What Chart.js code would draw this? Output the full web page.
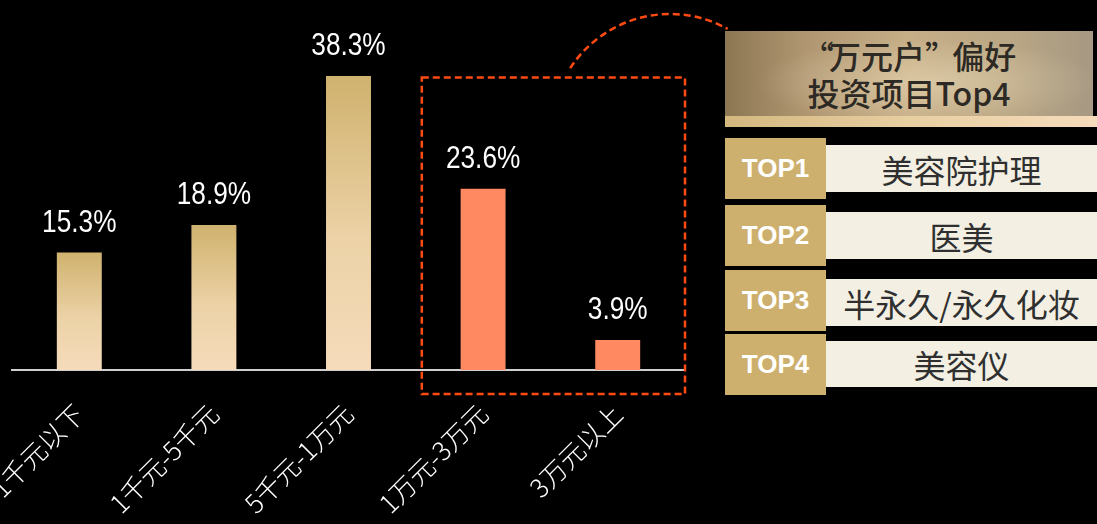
<!DOCTYPE html>
<html>
<head>
<meta charset="utf-8">
<script src="https://cdn.jsdelivr.net/npm/chart.js@4.4.1/dist/chart.umd.min.js"></script>
<style>
  html, body { margin: 0; padding: 0; background: #000; }
  #wrap { position: relative; width: 1097px; height: 524px; overflow: hidden; background: #000; }
  #grafico { position: absolute; left: 0; top: 0; }
  .cab { position: absolute; left: 725px; top: 31px; width: 368px; height: 85px;
    background: radial-gradient(ellipse at 55% 60%, rgba(240,225,190,0.5) 0%, rgba(240,225,190,0) 60%),
                linear-gradient(90deg, #8c7652 0%, #b09772 22%, #c6ae87 50%, #b9a684 78%, #a69882 100%);
    color: #2d2924; font-family: "Noto Sans CJK SC", sans-serif; font-weight: 500;
    font-size: 32px; line-height: 37px; text-align: center; padding-top: 6px; box-sizing: border-box; }
  .aspas { display: inline-block; width: 0.85em; }
  .aspas.abre { text-align: right; }
  .aspas.fecha { text-align: left; }
  .faixa { position: absolute; left: 725px; top: 116px; width: 372px; height: 11px;
    background: linear-gradient(90deg, #d3b87f 0%, #e8cfa2 50%, #f6dbbb 100%); }
  .top { position: absolute; left: 725px; width: 101px; background: #cdb06e; color: #fff;
    font-family: "Liberation Sans", Arial, sans-serif; font-weight: bold; font-size: 26px;
    display: flex; align-items: center; justify-content: center; }
  .item { position: absolute; left: 826px; width: 271px; background: #f3efe3; color: #2f2f2f;
    font-family: "Noto Sans CJK SC", sans-serif; font-size: 32px;
    display: flex; align-items: center; justify-content: center; }
</style>
</head>
<body>
<div id="wrap">
  <canvas id="grafico" width="1097" height="524"></canvas>
  <div class="cab"><span class="aspas abre">“</span>万元户<span class="aspas fecha">”</span>偏好<br>投资项目Top4</div>
  <div class="faixa"></div>
  <div id="lista"></div>
</div>
<script>
const faixas = ['1千元以下', '1千元-5千元', '5千元-1万元', '1万元-3万元', '3万元以上'];
const percentuais = [15.3, 18.9, 38.3, 23.6, 3.9];
const destaque = [false, false, false, true, true];
const rankLabels = ['TOP1', 'TOP2', 'TOP3', 'TOP4'];
const rankItens = ['美容院护理', '医美', '半永久/永久化妆', '美容仪'];

// lista lateral (caixas TOP)
const topBoxes = [[138, 61], [205, 61], [270, 61], [334, 61]];
const itemBoxes = [[145, 47], [212, 47], [279, 47], [341, 46]];
const lista = document.getElementById('lista');
rankLabels.forEach((r, i) => {
  const t = document.createElement('div');
  t.className = 'top';
  t.style.top = topBoxes[i][0] + 'px';
  t.style.height = topBoxes[i][1] + 'px';
  t.textContent = r;
  lista.appendChild(t);
  const it = document.createElement('div');
  it.className = 'item';
  it.style.top = itemBoxes[i][0] + 'px';
  it.style.height = itemBoxes[i][1] + 'px';
  it.textContent = rankItens[i];
  lista.appendChild(it);
});

const corBarra = (context) => {
  const i = context.dataIndex;
  if (destaque[i]) return '#ff8961';
  const chart = context.chart;
  const area = chart.chartArea;
  if (!area) return '#e8cfa0';
  const yScale = chart.scales.y;
  const topo = yScale.getPixelForValue(percentuais[i]);
  const g = chart.ctx.createLinearGradient(0, topo, 0, area.bottom);
  g.addColorStop(0, '#cfb26e');
  g.addColorStop(0.55, '#ecd2a6');
  g.addColorStop(1, '#f6dbbb');
  return g;
};

// rotulos de valor (fonte estreita simulada com escala horizontal)
const rotulos = {
  id: 'rotulos',
  afterDatasetsDraw(chart) {
    const ctx = chart.ctx;
    const meta = chart.getDatasetMeta(0);
    meta.data.forEach((bar, i) => {
      ctx.save();
      ctx.translate(bar.x, bar.y - 21);
      ctx.scale(0.82, 1);
      ctx.fillStyle = '#ffffff';
      ctx.font = '32px "Liberation Sans", Arial, sans-serif';
      ctx.textAlign = 'center';
      ctx.textBaseline = 'alphabetic';
      ctx.fillText(percentuais[i].toFixed(1) + '%', 0, 0);
      ctx.restore();
    });
  }
};

// caixa tracejada em volta das duas ultimas faixas + arco
const destaqueBox = {
  id: 'destaqueBox',
  afterDraw(chart) {
    const ctx = chart.ctx;
    const x = chart.scales.x;
    const y = chart.scales.y;
    const area = chart.chartArea;
    const esq = (x.getPixelForValue(2) + x.getPixelForValue(3)) / 2 + 6;
    const dir = area.right;
    const topo = y.getPixelForValue(38.1);
    const base = area.bottom + 24;
    ctx.save();
    ctx.strokeStyle = '#ff4b12';
    ctx.lineWidth = 2.5;
    ctx.setLineDash([7, 4]);
    ctx.strokeRect(esq, topo, dir - esq, base - topo);
    ctx.beginPath();
    ctx.arc(670, 133, 119, 213 * Math.PI / 180, 299 * Math.PI / 180);
    ctx.stroke();
    ctx.restore();
  }
};

new Chart(document.getElementById('grafico'), {
  type: 'bar',
  data: {
    labels: faixas,
    datasets: [{
      data: percentuais,
      backgroundColor: corBarra,
      borderWidth: 0,
      categoryPercentage: 1,
      barPercentage: 0.334
    }]
  },
  options: {
    responsive: false,
    animation: false,
    devicePixelRatio: 1,
    layout: { padding: { left: 12, right: 412, top: 63, bottom: 0 } },
    plugins: { legend: { display: false }, tooltip: { enabled: false } },
    scales: {
      y: { display: false, min: 0, max: 40 },
      x: {
        grid: { display: false, drawTicks: false },
        border: { display: true, color: '#cfcfcf', width: 2 },
        ticks: {
          color: '#ffffff',
          font: { family: '"Noto Sans CJK SC", sans-serif', size: 26, weight: 300 },
          minRotation: 45,
          maxRotation: 45,
          padding: 28
        },
        afterFit: (scale) => {
          scale.height = 154;
          scale.paddingLeft = 0;
          scale.paddingRight = 0;
        }
      }
    }
  },
  plugins: [rotulos, destaqueBox]
});
</script>
</body>
</html>
